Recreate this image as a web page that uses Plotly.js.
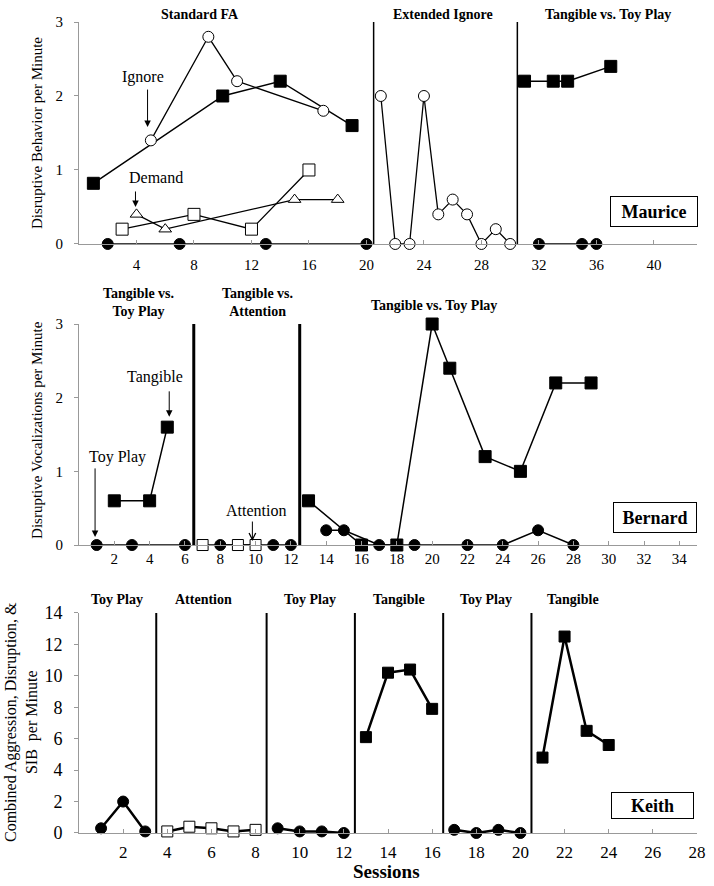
<!DOCTYPE html>
<html>
<head>
<meta charset="utf-8">
<script src="https://cdn.plot.ly/plotly-3.0.1.min.js"></script>
<style>
  html, body { margin: 0; padding: 0; background: #fff; }
  #chart { width: 714px; height: 886px; }
</style>
</head>
<body>
<div id="chart"></div>
<script>
// Maurice
const mTangX = [1, 10, 14, 19];
const mTangY = [0.82, 2.0, 2.2, 1.6];
const mIgnoreX = [5, 9, 11, 17];
const mIgnoreY = [1.4, 2.8, 2.2, 1.8];
const mDemandX = [4, 6, 15, 18];
const mDemandY = [0.4, 0.2, 0.6, 0.6];
const mAttnX = [3, 8, 12, 16];
const mAttnY = [0.2, 0.4, 0.2, 1.0];
const mPlayX = [2, 7, 13, 20];
const mPlayY = [0, 0, 0, 0];
const mExtX = [21, 22, 23, 24, 25, 26, 27, 28, 29, 30];
const mExtY = [2.0, 0, 0, 2.0, 0.4, 0.6, 0.4, 0, 0.2, 0];
const mTang2X = [31, 33, 34, 37];
const mTang2Y = [2.2, 2.2, 2.2, 2.4];
const mPlay2X = [32, 35, 36];
const mPlay2Y = [0, 0, 0];
const mPhases = [20.5, 30.5];
const mTicks = [4, 8, 12, 16, 20, 24, 28, 32, 36, 40];

// Bernard
const bTang1X = [2, 4, 5];
const bTang1Y = [0.6, 0.6, 1.6];
const bPlay1X = [1, 3, 6];
const bPlay1Y = [0, 0, 0];
const bAttnX = [7, 9, 10];
const bAttnY = [0, 0, 0];
const bTang2X = [8, 11, 12];
const bTang2Y = [0, 0, 0];
const bTang3X = [13, 16, 18, 20, 21, 23, 25, 27, 29];
const bTang3Y = [0.6, 0, 0, 3.0, 2.4, 1.2, 1.0, 2.2, 2.2];
const bPlay3X = [14, 15, 17, 19, 22, 24, 26, 28];
const bPlay3Y = [0.2, 0.2, 0, 0, 0, 0, 0.2, 0];
const bPhases = [6.5, 12.5];
const bTicks = [2, 4, 6, 8, 10, 12, 14, 16, 18, 20, 22, 24, 26, 28, 30, 32, 34];

// Keith
const kPlay1X = [1, 2, 3];
const kPlay1Y = [0.3, 2.0, 0.1];
const kAttnX = [4, 5, 6, 7, 8];
const kAttnY = [0.1, 0.4, 0.3, 0.1, 0.2];
const kPlay2X = [9, 10, 11, 12];
const kPlay2Y = [0.3, 0.1, 0.1, 0];
const kTang1X = [13, 14, 15, 16];
const kTang1Y = [6.1, 10.2, 10.4, 7.9];
const kPlay3X = [17, 18, 19, 20];
const kPlay3Y = [0.2, 0, 0.2, 0];
const kTang2X = [21, 22, 23, 24];
const kTang2Y = [4.8, 12.5, 6.5, 5.6];
const kPhases = [3.5, 8.5, 12.5, 16.5, 20.5];
const kTicks = [2, 4, 6, 8, 10, 12, 14, 16, 18, 20, 22, 24, 26, 28];

const SERIF = '"Liberation Serif", "Times New Roman", serif';

function series(x, y, ax, symbol, open, size, lw) {
  return {
    type: 'scatter', mode: 'lines+markers', x: x, y: y,
    xaxis: 'x' + ax, yaxis: 'y' + ax, cliponaxis: false,
    line: { color: '#000', width: lw },
    marker: {
      symbol: symbol, size: size,
      color: open ? '#fff' : '#000',
      line: { color: '#000', width: 1 }
    },
    hoverinfo: 'x+y'
  };
}

const traces = [
  series(mTangX, mTangY, '', 'square', false, 12, 1.5),
  series(mIgnoreX, mIgnoreY, '', 'circle', true, 11, 1.3),
  series(mAttnX, mAttnY, '', 'square', true, 12, 1.3),
  series(mDemandX, mDemandY, '', 'triangle-up', true, 11, 1.3),
  series(mPlayX, mPlayY, '', 'circle', false, 11, 1.5),
  series(mExtX, mExtY, '', 'circle', true, 11, 1.3),
  series(mTang2X, mTang2Y, '', 'square', false, 12, 1.5),
  series(mPlay2X, mPlay2Y, '', 'circle', false, 11, 1.5),

  series(bPlay1X, bPlay1Y, '2', 'circle', false, 11, 1.5),
  series(bTang1X, bTang1Y, '2', 'square', false, 12, 1.5),
  series(bTang2X, bTang2Y, '2', 'circle', false, 11, 1.5),
  series(bAttnX, bAttnY, '2', 'square', true, 11, 1.5),
  series(bPlay3X, bPlay3Y, '2', 'circle', false, 11, 1.5),
  series(bTang3X, bTang3Y, '2', 'square', false, 12, 1.5),

  series(kPlay1X, kPlay1Y, '3', 'circle', false, 11, 2.5),
  series(kAttnX, kAttnY, '3', 'square', true, 11, 2.5),
  series(kPlay2X, kPlay2Y, '3', 'circle', false, 11, 2.5),
  series(kTang1X, kTang1Y, '3', 'square', false, 11, 2.5),
  series(kPlay3X, kPlay3Y, '3', 'circle', false, 11, 2.5),
  series(kTang2X, kTang2Y, '3', 'square', false, 11, 2.5)
];

function xAxis(range, ticks, anchor, size, standoff) {
  return {
    range: range, anchor: anchor, domain: [0, 1],
    tickvals: ticks, ticks: 'inside', ticklen: 4, tickcolor: '#999',
    ticklabelstandoff: standoff,
    showline: true, linecolor: '#999', linewidth: 1,
    showgrid: false, zeroline: false,
    tickfont: { family: SERIF, size: size, color: '#000' }
  };
}

function yAxis(range, dtick, domain, anchor, size) {
  return {
    range: range, dtick: dtick, tick0: 0, domain: domain, anchor: anchor,
    ticks: 'outside', ticklen: 4, tickcolor: '#999', ticklabelstandoff: 8,
    showline: true, linecolor: '#999', linewidth: 1,
    showgrid: false, zeroline: false,
    tickfont: { family: SERIF, size: size, color: '#000' }
  };
}

const shapes = [];
function phaseLines(xs, ax, w) {
  xs.forEach(x => shapes.push({
    type: 'line', xref: 'x' + ax, yref: 'y' + ax + ' domain',
    x0: x, x1: x, y0: 0, y1: 1,
    line: { color: '#000', width: w }
  }));
}
phaseLines(mPhases, '', 1.5);
phaseLines(bPhases, '2', 3);
phaseLines(kPhases, '3', 2);

const annotations = [];
function phaseLabel(text, x, y, ax) {
  annotations.push({
    text: '<b>' + text + '</b>', x: x, y: y,
    xref: 'x' + ax, yref: 'y' + ax + ' domain',
    showarrow: false, xanchor: 'center', yanchor: 'middle',
    font: { family: SERIF, size: 14, color: '#000' }
  });
}
phaseLabel('Standard FA', 8.4, 1.036, '');
phaseLabel('Extended Ignore', 25.3, 1.036, '');
phaseLabel('Tangible vs. Toy Play', 36.8, 1.036, '');
phaseLabel('Tangible vs.<br>Toy Play', 3.35, 1.097, '2');
phaseLabel('Tangible vs.<br>Attention', 10.1, 1.097, '2');
phaseLabel('Tangible vs. Toy Play', 20.1, 1.086, '2');
phaseLabel('Toy Play', 1.73, 1.059, '3');
phaseLabel('Attention', 5.66, 1.059, '3');
phaseLabel('Toy Play', 10.45, 1.059, '3');
phaseLabel('Tangible', 14.5, 1.059, '3');
phaseLabel('Toy Play', 18.45, 1.059, '3');
phaseLabel('Tangible', 22.4, 1.059, '3');

function note(text, x, y, ax) {
  annotations.push({
    text: text, x: x, y: y, xref: 'x' + ax, yref: 'y' + ax,
    showarrow: false, xanchor: 'center', yanchor: 'middle',
    font: { family: SERIF, size: 16, color: '#000' }
  });
}
function arrow(x, y, ay, ax, head) {
  annotations.push({
    text: '', x: x, y: y, xref: 'x' + ax, yref: 'y' + ax,
    showarrow: true, ax: 0, ay: ay,
    arrowhead: head, arrowsize: 1.3, arrowwidth: 1, arrowcolor: '#000'
  });
}
note('Ignore', 4.42, 2.26, '');
arrow(4.77, 1.58, -39, '', 2);
note('Demand', 5.39, 0.905, '');
arrow(3.93, 0.5, -17, '', 2);
note('Tangible', 4.31, 2.28, '2');
arrow(5.11, 1.74, -27, '2', 2);
note('Toy Play', 2.16, 1.19, '2');
arrow(0.91, 0.11, -70, '2', 2);
note('Attention', 10.05, 0.475, '2');
arrow(9.82, 0.054, -21, '2', 5);

function nameBox(text, x, y, ax, w, h) {
  annotations.push({
    text: '<b>' + text + '</b>', x: x, y: y, xref: 'x' + ax, yref: 'y' + ax,
    showarrow: false, xanchor: 'center', yanchor: 'middle',
    width: w, height: h, borderpad: 0,
    bordercolor: '#000', borderwidth: 1, bgcolor: '#fff',
    font: { family: SERIF, size: 18, color: '#000' }
  });
}
nameBox('Maurice', 40.0, 0.44, '', 86, 29);
nameBox('Bernard', 32.6, 0.373, '2', 82, 29);
nameBox('Keith', 26.0, 1.75, '3', 81, 25);

function yTitle(text, x, y, size) {
  annotations.push({
    text: text, x: x, y: y, xref: 'paper', yref: 'paper',
    xanchor: 'center', yanchor: 'middle',
    textangle: -90, showarrow: false,
    font: { family: SERIF, size: size, color: '#000' }
  });
}
yTitle('Disruptive Behavior per Minute', -0.068, 0.863, 15);
yTitle('Disruptive Vocalizations per Minute', -0.068, 0.497, 15);
yTitle('Combined Aggression, Disruption, &<br>SIB  per Minute', -0.092, 0.137, 16);

annotations.push({
  text: '<b>Sessions</b>', x: 0.498, y: -0.048, xref: 'paper', yref: 'paper',
  xanchor: 'center', yanchor: 'middle',
  showarrow: false, font: { family: SERIF, size: 19, color: '#000' }
});

const layout = {
  width: 714, height: 886,
  margin: { l: 79, r: 17, t: 22, b: 53 },
  paper_bgcolor: '#fff', plot_bgcolor: '#fff',
  showlegend: false,
  font: { family: SERIF, color: '#000' },
  xaxis: xAxis([0, 43], mTicks, 'y', 15, 7),
  yaxis: yAxis([0, 3], 1, [0.7263, 1], 'x', 15),
  xaxis2: xAxis([0, 35], bTicks, 'y2', 15, 0),
  yaxis2: yAxis([0, 3], 1, [0.3551, 0.6276], 'x2', 15),
  xaxis3: xAxis([0, 28], kTicks, 'y3', 17, 4),
  yaxis3: yAxis([0, 14], 2, [0, 0.2713], 'x3', 18),
  shapes: shapes,
  annotations: annotations
};

Plotly.newPlot('chart', traces, layout, { displayModeBar: false, staticPlot: true });
</script>
</body>
</html>
